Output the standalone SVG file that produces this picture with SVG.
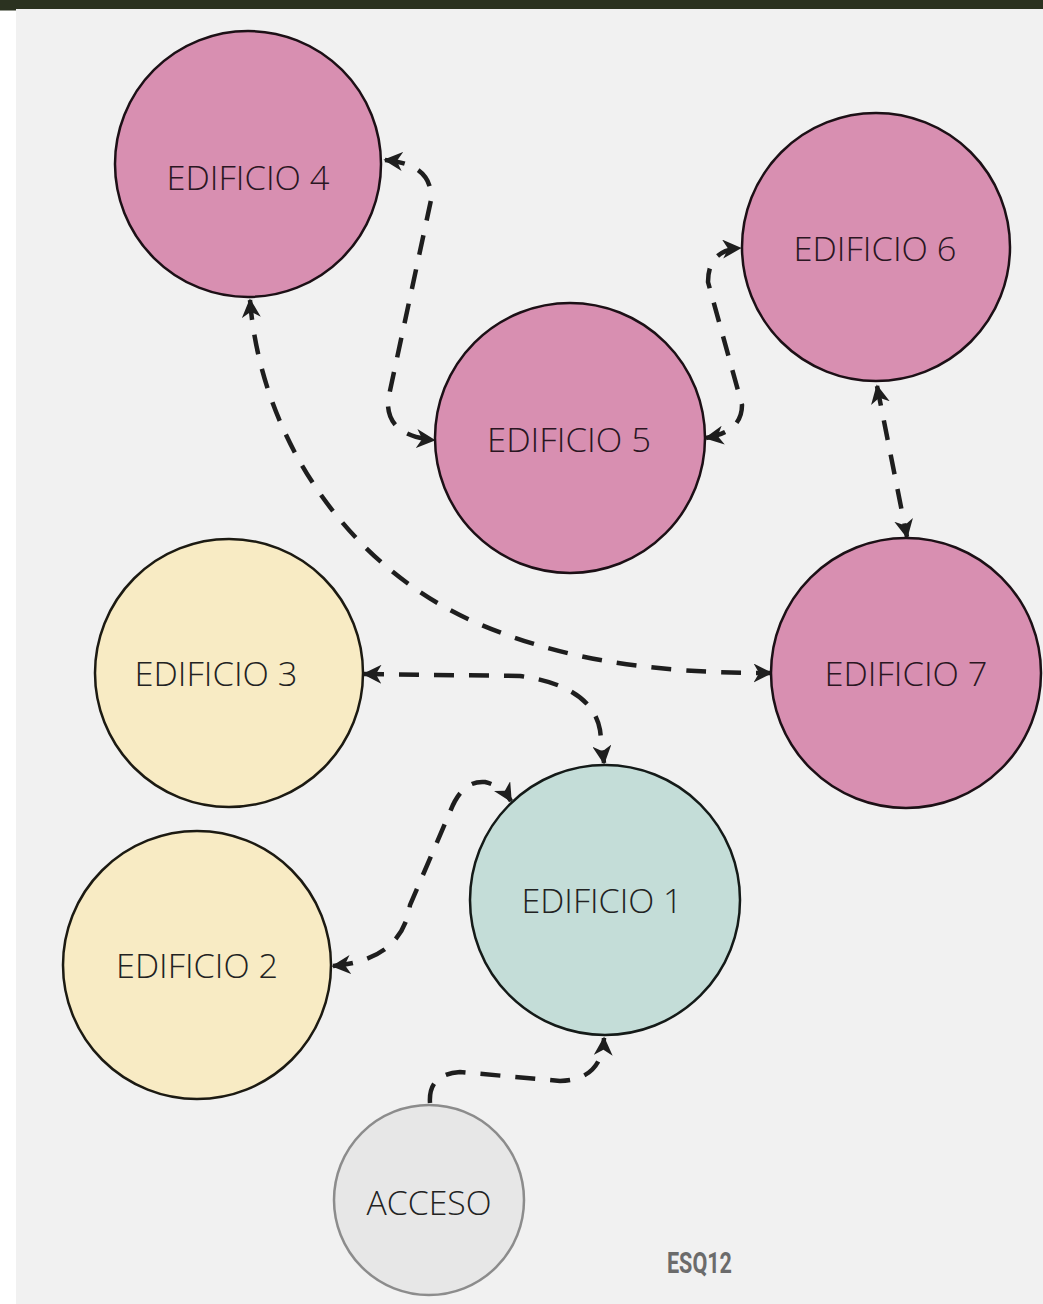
<svg xmlns="http://www.w3.org/2000/svg" width="1043" height="1304" viewBox="0 0 1043 1304">
<style>
.bg{fill:#f1f1f1}
.pink{fill:#d88fb1;stroke:#1c1016;stroke-width:2.5}
.yellow{fill:#f8ebc4;stroke:#1c1a12;stroke-width:2.5}
.teal{fill:#c4ddd8;stroke:#141a18;stroke-width:2.5}
.gray{fill:#e7e7e7;stroke:#8c8c8c;stroke-width:2.5}
.lbl{font-family:"Open Sans","Noto Sans",sans-serif;font-weight:300;font-size:33px;text-anchor:middle;fill:#2a1622}
.lbl2{font-family:"Open Sans","Noto Sans",sans-serif;font-weight:300;font-size:33px;text-anchor:middle;fill:#222}
.conn{fill:none;stroke:#1e1e1e;stroke-width:4.5;stroke-dasharray:20 15}
.tag{font-family:"Liberation Sans Narrow","Roboto","Liberation Sans",sans-serif;font-weight:bold;font-size:30px;fill:#6b6b6b}
</style>
<defs>
<marker id="arr" viewBox="0 0 12 12" refX="11" refY="6" markerWidth="19" markerHeight="19" markerUnits="userSpaceOnUse" orient="auto-start-reverse">
<path d="M0,0 L12,6 L0,12 L3.5,6 Z" fill="#1e1e1e"/>
</marker>
</defs>
<rect x="0" y="0" width="1043" height="1304" fill="#ffffff"/>
<rect class="bg" x="16" y="9" width="1027" height="1295"/>
<rect x="0" y="0" width="1043" height="9" fill="#2b3220"/>
<rect x="0" y="9" width="16" height="1.5" fill="#2b3220"/>

<g id="connectors">
<path class="conn" marker-start="url(#arr)" marker-end="url(#arr)" d="M385,160 Q433,164 431,200 L388,400 Q386,436 434,440"/>
<path class="conn" marker-start="url(#arr)" marker-end="url(#arr)" d="M706,438 Q742,432 742,405 L708,282 Q708,250 740,248"/>
<path class="conn" marker-start="url(#arr)" marker-end="url(#arr)" d="M877,386 L907,537"/>
<path class="conn" marker-start="url(#arr)" marker-end="url(#arr)" d="M250,300 C260,430 340,560 470,620 C560,660 650,673 771,673"/>
<path class="conn" marker-start="url(#arr)" marker-end="url(#arr)" d="M364,674 L520,676 Q592,686 600,730 L604,763"/>
<path class="conn" marker-start="url(#arr)" marker-end="url(#arr)" d="M333,966 Q402,960 410,905 L450,812 Q462,780 485,782 Q502,786 511,801"/>
<path class="conn" marker-end="url(#arr)" d="M430,1103 Q428,1074 460,1072 L560,1081 Q602,1080 604,1038"/>
</g>

<g id="edificio4"><circle class="pink" cx="248" cy="164" r="133"/><text class="lbl" x="248" y="190" textLength="163" lengthAdjust="spacingAndGlyphs">EDIFICIO 4</text></g>
<g id="edificio5"><circle class="pink" cx="570" cy="438" r="135"/><text class="lbl" x="569" y="452" textLength="164" lengthAdjust="spacingAndGlyphs">EDIFICIO 5</text></g>
<g id="edificio6"><circle class="pink" cx="876" cy="247" r="134"/><text class="lbl" x="875" y="261" textLength="163" lengthAdjust="spacingAndGlyphs">EDIFICIO 6</text></g>
<g id="edificio7"><circle class="pink" cx="906" cy="673" r="135"/><text class="lbl" x="906" y="686" textLength="163" lengthAdjust="spacingAndGlyphs">EDIFICIO 7</text></g>
<g id="edificio3"><circle class="yellow" cx="229" cy="673" r="134"/><text class="lbl2" x="216" y="686" textLength="163" lengthAdjust="spacingAndGlyphs">EDIFICIO 3</text></g>
<g id="edificio2"><circle class="yellow" cx="197" cy="965" r="134"/><text class="lbl2" x="197" y="978" textLength="162" lengthAdjust="spacingAndGlyphs">EDIFICIO 2</text></g>
<g id="edificio1"><circle class="teal" cx="605" cy="900" r="135"/><text class="lbl2" x="602" y="913" textLength="161" lengthAdjust="spacingAndGlyphs">EDIFICIO 1</text></g>
<g id="acceso"><circle class="gray" cx="429" cy="1200" r="95"/><text class="lbl2" x="429" y="1215" textLength="125" lengthAdjust="spacingAndGlyphs">ACCESO</text></g>
<text class="tag" x="667" y="1273" textLength="65" lengthAdjust="spacingAndGlyphs">ESQ12</text>
</svg>
